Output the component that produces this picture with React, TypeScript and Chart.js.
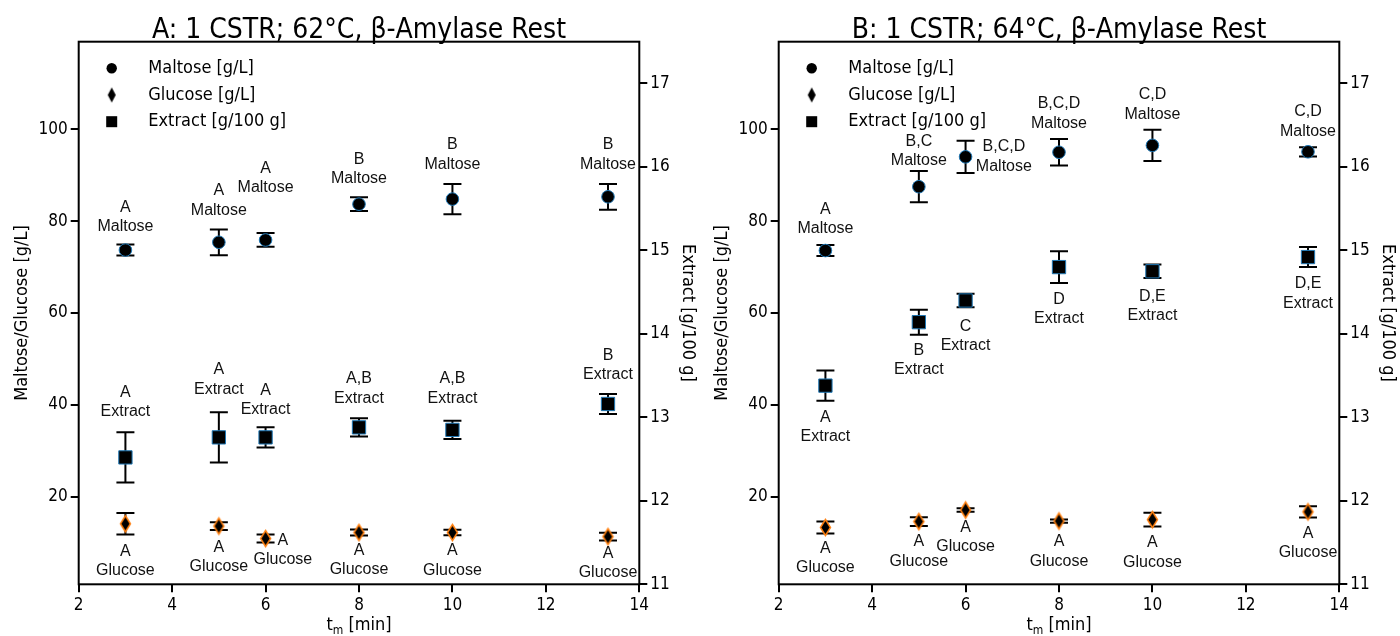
import React, { useEffect, useRef } from 'react';
import { Chart, registerables } from 'chart.js';

Chart.register(...registerables);

// ---------------- data ----------------
const tm = [3, 5, 6, 8, 10, 13.33];

const maltoseA = [73.7, 75.4, 75.9, 83.7, 84.8, 85.3];
const maltoseErrA = [1.2, 2.8, 1.5, 1.5, 3.3, 2.8];
const glucoseA = [14.1, 13.6, 10.9, 12.2, 12.2, 11.3];
const glucoseErrA = [2.35, 0.85, 0.85, 0.65, 0.6, 0.85];
const extractA = [12.52, 12.76, 12.76, 12.88, 12.85, 13.16];
const extractErrA = [0.3, 0.3, 0.12, 0.11, 0.11, 0.12];

const maltoseB = [73.6, 87.5, 94.0, 95.0, 96.5, 95.1];
const maltoseErrB = [1.2, 3.4, 3.5, 2.9, 3.4, 1.0];
const glucoseB = [13.3, 14.6, 17.1, 14.7, 15.0, 16.7];
const glucoseErrB = [1.3, 0.95, 0.4, 0.35, 1.5, 1.2];
const extractB = [13.38, 14.14, 14.4, 14.8, 14.75, 14.92];
const extractErrB = [0.18, 0.15, 0.08, 0.19, 0.08, 0.12];

// significance letters
const maltoseLettersA = ['A', 'A', 'A', 'B', 'B', 'B'];
const extractLettersA = ['A', 'A', 'A', 'A,B', 'A,B', 'B'];
const glucoseLettersA = ['A', 'A', 'A', 'A', 'A', 'A'];
const maltoseLettersB = ['A', 'B,C', 'B,C,D', 'B,C,D', 'C,D', 'C,D'];
const extractLettersB = ['A', 'B', 'C', 'D', 'D,E', 'D,E'];
const glucoseLettersB = ['A', 'A', 'A', 'A', 'A', 'A'];

// label anchors (data units, left axis)
const maltoseLabelXA = [3, 5, 6, 8, 10, 13.33];
const maltoseLabelYA = [80.9, 84.5, 89.4, 91.3, 94.5, 94.5];
const extractLabelXA = [3, 5, 6, 8, 10, 13.33];
const extractLabelYA = [40.6, 45.5, 41.0, 43.5, 43.5, 48.7];
const glucoseLabelXA = [3, 5, 6.37, 8, 10, 13.33];
const glucoseLabelYA = [5.95, 6.9, 8.4, 6.15, 6.1, 5.6];

const maltoseLabelXB = [3, 5, 6.82, 8, 10, 13.33];
const maltoseLabelYB = [80.5, 95.2, 94.0, 103.4, 105.4, 101.7];
const extractLabelXB = [3, 5, 6, 8, 10, 13.33];
const extractLabelYB = [35.2, 49.8, 55.0, 60.9, 61.5, 64.2];
const glucoseLabelXB = [3, 5, 6, 8, 10, 13.33];
const glucoseLabelYB = [6.65, 8.0, 11.2, 8.1, 7.85, 9.9];

const leftTicks = [20, 40, 60, 80, 100];
const rightTicks = [11, 12, 13, 14, 15, 16, 17];
const xTicks = [2, 4, 6, 8, 10, 12, 14];

const titleA = 'A: 1 CSTR; 62°C, β-Amylase Rest';
const titleB = 'B: 1 CSTR; 64°C, β-Amylase Rest';
const legendLabels = ['Maltose [g/L]', 'Glucose [g/L]', 'Extract [g/100 g]'];
const leftTitle = 'Maltose/Glucose [g/L]';
const rightTitle = 'Extract [g/100 g]';

// ---------------- styling ----------------
const SANS = "'DejaVu Sans Condensed', 'DejaVu Sans', sans-serif";
const ANNOT = "'Liberation Sans', Arial, sans-serif";
const W = 700;
const H = 636;

function makeDiamond(w: number, h: number, fill: string, stroke: string | null, lw: number) {
  const pad = stroke ? lw : 0;
  const c = document.createElement('canvas');
  c.width = Math.ceil(w + 2 * pad + 2);
  c.height = Math.ceil(h + 2 * pad + 2);
  const ctx = c.getContext('2d')!;
  const cx = c.width / 2;
  const cy = c.height / 2;
  ctx.beginPath();
  ctx.moveTo(cx, cy - h / 2);
  ctx.lineTo(cx + w / 2, cy);
  ctx.lineTo(cx, cy + h / 2);
  ctx.lineTo(cx - w / 2, cy);
  ctx.closePath();
  ctx.fillStyle = fill;
  ctx.fill();
  if (stroke) {
    ctx.strokeStyle = stroke;
    ctx.lineWidth = lw;
    ctx.stroke();
  }
  return c;
}

interface PanelData {
  title: string;
  maltose: number[];
  maltoseErr: number[];
  glucose: number[];
  glucoseErr: number[];
  extract: number[];
  extractErr: number[];
  labels: { letters: string[]; name: string; xs: number[]; ys: number[] }[];
}

const panelA: PanelData = {
  title: titleA,
  maltose: maltoseA,
  maltoseErr: maltoseErrA,
  glucose: glucoseA,
  glucoseErr: glucoseErrA,
  extract: extractA,
  extractErr: extractErrA,
  labels: [
    { letters: maltoseLettersA, name: 'Maltose', xs: maltoseLabelXA, ys: maltoseLabelYA },
    { letters: extractLettersA, name: 'Extract', xs: extractLabelXA, ys: extractLabelYA },
    { letters: glucoseLettersA, name: 'Glucose', xs: glucoseLabelXA, ys: glucoseLabelYA },
  ],
};

const panelB: PanelData = {
  title: titleB,
  maltose: maltoseB,
  maltoseErr: maltoseErrB,
  glucose: glucoseB,
  glucoseErr: glucoseErrB,
  extract: extractB,
  extractErr: extractErrB,
  labels: [
    { letters: maltoseLettersB, name: 'Maltose', xs: maltoseLabelXB, ys: maltoseLabelYB },
    { letters: extractLettersB, name: 'Extract', xs: extractLabelXB, ys: extractLabelYB },
    { letters: glucoseLettersB, name: 'Glucose', xs: glucoseLabelXB, ys: glucoseLabelYB },
  ],
};

const errorBarPlugin = {
  id: 'errorBars',
  beforeDatasetsDraw(chart: any) {
    const ctx = chart.ctx;
    ctx.save();
    ctx.strokeStyle = '#000';
    ctx.lineWidth = 2;
    chart.data.datasets.forEach((ds: any, i: number) => {
      const meta = chart.getDatasetMeta(i);
      const ys = chart.scales[ds.yAxisID];
      meta.data.forEach((el: any, j: number) => {
        const v = ds.data[j].y;
        const e = ds.errors[j];
        const x = el.x;
        const t = ys.getPixelForValue(v + e);
        const b = ys.getPixelForValue(v - e);
        ctx.beginPath();
        ctx.moveTo(x, t);
        ctx.lineTo(x, b);
        ctx.moveTo(x - 9, t);
        ctx.lineTo(x + 9, t);
        ctx.moveTo(x - 9, b);
        ctx.lineTo(x + 9, b);
        ctx.stroke();
      });
    });
    ctx.restore();
  },
};

function makeConfig(d: PanelData) {
  const diamond = makeDiamond(10, 16, '#000', '#ff7f0e', 1.5);
  const legendDiamond = makeDiamond(8, 15, '#000', null, 0);

  const labelPlugin = {
    id: 'sigLabels',
    afterDatasetsDraw(chart: any) {
      const ctx = chart.ctx;
      const xs = chart.scales.x;
      const yl = chart.scales.y;
      ctx.save();
      ctx.fillStyle = '#111';
      ctx.font = `16px ${ANNOT}`;
      ctx.textAlign = 'center';
      ctx.textBaseline = 'middle';
      d.labels.forEach((g) => {
        g.letters.forEach((letter, i) => {
          const px = xs.getPixelForValue(g.xs[i]);
          const py = yl.getPixelForValue(g.ys[i]);
          ctx.fillText(letter, px, py - 9.75);
          ctx.fillText(g.name, px, py + 9.75);
        });
      });
      ctx.restore();
    },
  };

  const decorPlugin = {
    id: 'decor',
    afterDraw(chart: any) {
      const ctx = chart.ctx;
      const a = chart.chartArea;
      ctx.save();
      // frame
      ctx.strokeStyle = '#000';
      ctx.lineWidth = 2;
      ctx.strokeRect(a.left, a.top, a.right - a.left, a.bottom - a.top);
      const cx = (a.left + a.right) / 2;
      const cy = (a.top + a.bottom) / 2;
      ctx.fillStyle = '#000';
      // title
      ctx.font = `28px ${SANS}`;
      ctx.textAlign = 'center';
      ctx.textBaseline = 'alphabetic';
      ctx.fillText(d.title, cx, 37.5);
      // left axis title
      ctx.font = `18px ${SANS}`;
      ctx.textBaseline = 'middle';
      ctx.save();
      ctx.translate(22, cy);
      ctx.rotate(-Math.PI / 2);
      ctx.fillText(leftTitle, 0, 0);
      ctx.restore();
      // right axis title
      ctx.save();
      ctx.translate(688, cy);
      ctx.rotate(Math.PI / 2);
      ctx.fillText(rightTitle, 0, 0);
      ctx.restore();
      // x title: t_m [min]
      ctx.textBaseline = 'alphabetic';
      ctx.textAlign = 'left';
      const big = `18px ${SANS}`;
      const small = `12px ${SANS}`;
      ctx.font = big;
      const wT = ctx.measureText('t').width;
      const wRest = ctx.measureText(' [min]').width;
      ctx.font = small;
      const wM = ctx.measureText('m').width;
      let x0 = cx - (wT + wM + wRest) / 2;
      const base = 630;
      ctx.font = big;
      ctx.fillText('t', x0, base);
      x0 += wT;
      ctx.font = small;
      ctx.fillText('m', x0, base + 4);
      x0 += wM;
      ctx.font = big;
      ctx.fillText(' [min]', x0, base);
      // legend
      const lx = a.left + 33;
      const tx = a.left + 69.6;
      const rows = [a.top + 26.6, a.top + 53.3, a.top + 80];
      ctx.fillStyle = '#000';
      ctx.beginPath();
      ctx.arc(lx, rows[0], 5.2, 0, Math.PI * 2);
      ctx.fill();
      ctx.drawImage(legendDiamond, lx - legendDiamond.width / 2, rows[1] - legendDiamond.height / 2);
      ctx.fillRect(lx - 5.5, rows[2] - 5.5, 11, 11);
      ctx.font = `18px ${SANS}`;
      ctx.textBaseline = 'middle';
      ctx.textAlign = 'left';
      legendLabels.forEach((t, i) => ctx.fillText(t, tx, rows[i]));
      ctx.restore();
    },
  };

  const tickFont = { family: SANS, size: 17 };
  const gridOpts = {
    display: true,
    drawOnChartArea: false,
    drawTicks: true,
    tickLength: 8,
    color: '#000',
    lineWidth: 2,
  };

  return {
    type: 'scatter',
    data: {
      datasets: [
        {
          label: legendLabels[0],
          data: tm.map((x, i) => ({ x, y: d.maltose[i] })),
          errors: d.maltoseErr,
          yAxisID: 'y',
          pointStyle: 'circle',
          pointRadius: 6.3,
          backgroundColor: '#000',
          borderColor: '#1f77b4',
          borderWidth: 1,
        },
        {
          label: legendLabels[1],
          data: tm.map((x, i) => ({ x, y: d.glucose[i] })),
          errors: d.glucoseErr,
          yAxisID: 'y',
          pointStyle: diamond,
          pointRadius: 8,
          backgroundColor: '#000',
          borderColor: '#ff7f0e',
          borderWidth: 1,
        },
        {
          label: legendLabels[2],
          data: tm.map((x, i) => ({ x, y: d.extract[i] })),
          errors: d.extractErr,
          yAxisID: 'y2',
          pointStyle: 'rect',
          pointRadius: 9.4,
          backgroundColor: '#000',
          borderColor: '#1f77b4',
          borderWidth: 1,
        },
      ],
    },
    options: {
      animation: false,
      responsive: false,
      devicePixelRatio: 1,
      events: [],
      layout: { padding: { top: 41.7, left: 0, right: 0, bottom: 0 } },
      plugins: { legend: { display: false }, tooltip: { enabled: false }, title: { display: false } },
      scales: {
        x: {
          type: 'linear',
          position: 'bottom',
          min: 2,
          max: 14,
          afterBuildTicks: (s: any) => {
            s.ticks = xTicks.map((v) => ({ value: v }));
          },
          ticks: { color: '#000', font: tickFont, padding: 3, maxRotation: 0, callback: (v: any) => String(v) },
          grid: gridOpts,
          border: { display: false },
          afterFit: (s: any) => {
            s.height = H - 584.3;
          },
        },
        y: {
          type: 'linear',
          position: 'left',
          min: 0.93,
          max: 119.07,
          afterBuildTicks: (s: any) => {
            s.ticks = leftTicks.map((v) => ({ value: v }));
          },
          ticks: { color: '#000', font: tickFont, padding: 3, callback: (v: any) => String(v) },
          grid: gridOpts,
          border: { display: false },
          afterFit: (s: any) => {
            s.width = 78.7;
          },
        },
        y2: {
          type: 'linear',
          position: 'right',
          min: 11,
          max: 17.5,
          afterBuildTicks: (s: any) => {
            s.ticks = rightTicks.map((v) => ({ value: v }));
          },
          ticks: { color: '#000', font: tickFont, padding: 3, callback: (v: any) => String(v) },
          grid: gridOpts,
          border: { display: false },
          afterFit: (s: any) => {
            s.width = W - 639.3;
          },
        },
      },
    },
    plugins: [errorBarPlugin, labelPlugin, decorPlugin],
  };
}

function Panel({ d }: { d: PanelData }) {
  const ref = useRef<HTMLCanvasElement>(null);
  useEffect(() => {
    const canvas = ref.current;
    if (!canvas) return;
    const chart = new Chart(canvas, makeConfig(d) as any);
    return () => chart.destroy();
  }, [d]);
  return <canvas ref={ref} width={W} height={H} style={{ display: 'block', width: W, height: H }} />;
}

export default function App() {
  useEffect(() => {
    document.body.style.margin = '0';
  }, []);
  return (
    <div style={{ display: 'flex', width: 1400, height: 636, background: '#fff' }}>
      <Panel d={panelA} />
      <Panel d={panelB} />
    </div>
  );
}
